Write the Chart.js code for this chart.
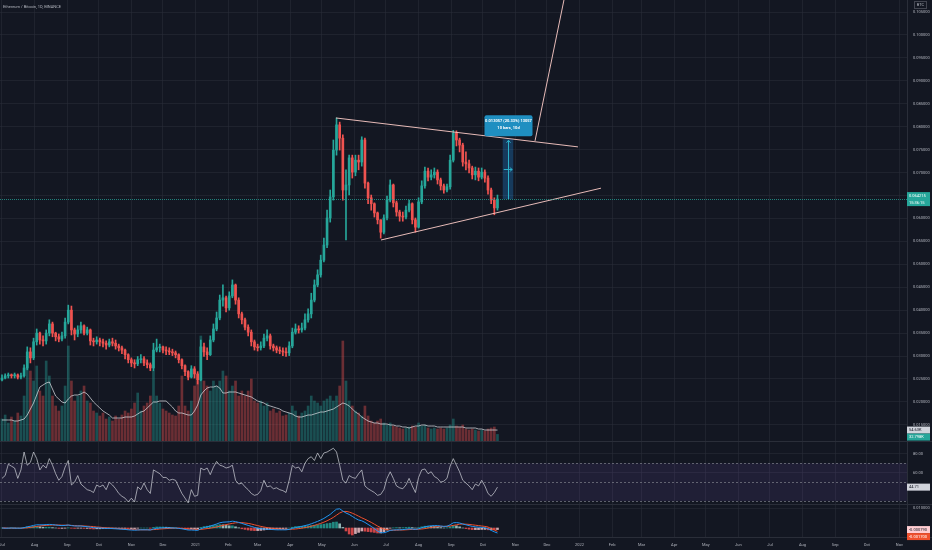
<!DOCTYPE html>
<html>
<head>
<meta charset="utf-8">
<title>ETHBTC 1D</title>
<script src="https://cdn.jsdelivr.net/npm/chart.js@4.4.1/dist/chart.umd.min.js"></script>
<style>
  html, body { margin: 0; padding: 0; background: #131722; }
  #wrap { position: relative; width: 932px; height: 550px; overflow: hidden; background: #131722; }
  canvas { position: absolute; left: 0; }
</style>
</head>
<body>
<div id="wrap">
  <canvas id="price" width="932" height="441" style="top:0"></canvas>
  <canvas id="rsi" width="932" height="63" style="top:441px"></canvas>
  <canvas id="macd" width="932" height="46" style="top:504px"></canvas>
</div>
<script>
// candles every 3 days, x = days since 1 Jul 2020
const days = [0,3,6,9,12,15,18,21,24,27,30,33,36,39,42,45,48,51,54,57,60,63,66,69,72,75,78,81,84,87,
  90,93,96,99,102,105,108,111,114,117,120,123,126,129,132,135,138,141,144,147,150,153,156,159,162,165,168,171,174,177,
  180,183,186,189,192,195,198,201,204,207,210,213,216,219,222,225,228,231,234,237,240,243,246,249,252,255,258,261,264,267,
  270,273,276,279,282,285,288,291,294,297,300,303,306,309,312,315,318,321,324,327,330,333,336,339,342,345,348,351,354,357,
  360,363,366,369,372,375,378,381,384,387,390,393,396,399,402,405,408,411,414,417,420,423,426,429,432,435,438,441,444,447,
  450,453,456,459,462,465,468,471];

const open = [0.0248,0.0252,0.0257,0.0259,0.0257,0.0259,0.0254,0.0257,0.0274,0.0309,
  0.0296,0.0331,0.0350,0.0335,0.0333,0.0350,0.0370,0.0350,0.0342,0.0337,
  0.0344,0.0374,0.0400,0.0357,0.0348,0.0357,0.0366,0.0350,0.0357,0.0333,
  0.0331,0.0335,0.0331,0.0328,0.0324,0.0331,0.0328,0.0322,0.0318,0.0313,
  0.0303,0.0292,0.0285,0.0283,0.0292,0.0294,0.0285,0.0281,0.0274,0.0313,
  0.0318,0.0320,0.0313,0.0311,0.0309,0.0307,0.0303,0.0292,0.0279,0.0266,
  0.0254,0.0272,0.0261,0.0248,0.0320,0.0309,0.0303,0.0335,0.0359,0.0383,
  0.0422,0.0427,0.0405,0.0431,0.0455,0.0422,0.0392,0.0379,0.0363,0.0352,
  0.0331,0.0320,0.0318,0.0322,0.0339,0.0344,0.0322,0.0318,0.0313,0.0311,
  0.0309,0.0307,0.0322,0.0352,0.0359,0.0357,0.0361,0.0379,0.0392,0.0422,
  0.0455,0.0477,0.0509,0.0542,0.0601,0.0647,0.0749,0.0804,0.0775,0.0662,
  0.0673,0.0732,0.0701,0.0727,0.0723,0.0771,0.0677,0.0645,0.0632,0.0612,
  0.0597,0.0570,0.0601,0.0640,0.0673,0.0634,0.0614,0.0605,0.0603,0.0618,
  0.0632,0.0597,0.0581,0.0636,0.0671,0.0703,0.0690,0.0695,0.0701,0.0684,
  0.0671,0.0662,0.0669,0.0727,0.0786,0.0771,0.0760,0.0723,0.0719,0.0710,
  0.0695,0.0703,0.0690,0.0701,0.0688,0.0662,0.0640,0.0623];
const high = [0.0259,0.0261,0.0263,0.0261,0.0263,0.0261,0.0263,0.0281,0.0320,0.0318,
  0.0339,0.0359,0.0352,0.0344,0.0357,0.0379,0.0374,0.0352,0.0348,0.0352,
  0.0383,0.0411,0.0409,0.0361,0.0366,0.0374,0.0368,0.0363,0.0359,0.0339,
  0.0342,0.0339,0.0337,0.0333,0.0337,0.0339,0.0335,0.0326,0.0322,0.0315,
  0.0305,0.0296,0.0292,0.0299,0.0303,0.0299,0.0292,0.0285,0.0328,0.0337,
  0.0326,0.0322,0.0320,0.0318,0.0315,0.0311,0.0305,0.0294,0.0281,0.0268,
  0.0279,0.0277,0.0266,0.0335,0.0328,0.0318,0.0344,0.0370,0.0396,0.0433,
  0.0455,0.0431,0.0440,0.0466,0.0457,0.0427,0.0396,0.0383,0.0368,0.0357,
  0.0335,0.0326,0.0331,0.0348,0.0357,0.0348,0.0326,0.0322,0.0320,0.0318,
  0.0318,0.0331,0.0361,0.0370,0.0366,0.0372,0.0392,0.0403,0.0437,0.0466,
  0.0488,0.0520,0.0557,0.0618,0.0662,0.0771,0.0819,0.0810,0.0782,0.0706,
  0.0738,0.0738,0.0738,0.0738,0.0778,0.0775,0.0679,0.0651,0.0634,0.0614,
  0.0597,0.0608,0.0649,0.0684,0.0675,0.0638,0.0618,0.0614,0.0627,0.0640,
  0.0634,0.0601,0.0645,0.0682,0.0712,0.0710,0.0706,0.0710,0.0706,0.0688,
  0.0675,0.0675,0.0738,0.0792,0.0791,0.0775,0.0764,0.0745,0.0727,0.0714,
  0.0712,0.0710,0.0710,0.0706,0.0693,0.0666,0.0645,0.0651];
const low = [0.0246,0.0250,0.0252,0.0252,0.0252,0.0250,0.0250,0.0254,0.0270,0.0285,
  0.0292,0.0324,0.0326,0.0322,0.0326,0.0344,0.0342,0.0333,0.0331,0.0333,
  0.0339,0.0370,0.0346,0.0335,0.0342,0.0350,0.0346,0.0346,0.0324,0.0322,
  0.0326,0.0322,0.0320,0.0315,0.0320,0.0322,0.0315,0.0311,0.0305,0.0294,
  0.0285,0.0277,0.0274,0.0279,0.0285,0.0279,0.0274,0.0268,0.0268,0.0309,
  0.0309,0.0307,0.0303,0.0303,0.0301,0.0296,0.0285,0.0272,0.0257,0.0248,
  0.0252,0.0252,0.0239,0.0246,0.0299,0.0292,0.0301,0.0331,0.0355,0.0379,
  0.0409,0.0396,0.0400,0.0427,0.0413,0.0383,0.0370,0.0357,0.0344,0.0322,
  0.0313,0.0311,0.0313,0.0318,0.0333,0.0315,0.0311,0.0307,0.0305,0.0301,
  0.0299,0.0301,0.0318,0.0348,0.0350,0.0352,0.0357,0.0374,0.0383,0.0418,
  0.0451,0.0472,0.0505,0.0536,0.0592,0.0640,0.0738,0.0749,0.0640,0.0553,
  0.0651,0.0688,0.0693,0.0706,0.0714,0.0666,0.0632,0.0618,0.0603,0.0588,
  0.0557,0.0566,0.0597,0.0636,0.0625,0.0605,0.0594,0.0594,0.0599,0.0614,
  0.0588,0.0570,0.0579,0.0632,0.0666,0.0682,0.0684,0.0688,0.0675,0.0662,
  0.0655,0.0658,0.0664,0.0723,0.0758,0.0745,0.0714,0.0706,0.0699,0.0686,
  0.0684,0.0682,0.0686,0.0679,0.0653,0.0632,0.0608,0.0618];
const close = [0.0252,0.0257,0.0259,0.0257,0.0259,0.0254,0.0257,0.0274,0.0309,0.0296,
  0.0331,0.0350,0.0335,0.0333,0.0350,0.0370,0.0350,0.0342,0.0337,0.0344,
  0.0374,0.0400,0.0357,0.0348,0.0357,0.0366,0.0350,0.0357,0.0333,0.0331,
  0.0335,0.0331,0.0328,0.0324,0.0331,0.0328,0.0322,0.0318,0.0313,0.0303,
  0.0292,0.0285,0.0283,0.0292,0.0294,0.0285,0.0281,0.0274,0.0313,0.0318,
  0.0320,0.0313,0.0311,0.0309,0.0307,0.0303,0.0292,0.0279,0.0266,0.0254,
  0.0272,0.0261,0.0248,0.0320,0.0309,0.0303,0.0335,0.0359,0.0383,0.0422,
  0.0427,0.0405,0.0431,0.0455,0.0422,0.0392,0.0379,0.0363,0.0352,0.0331,
  0.0320,0.0318,0.0322,0.0339,0.0344,0.0322,0.0318,0.0313,0.0311,0.0309,
  0.0307,0.0322,0.0352,0.0359,0.0357,0.0361,0.0379,0.0392,0.0422,0.0455,
  0.0477,0.0509,0.0542,0.0601,0.0647,0.0749,0.0804,0.0775,0.0662,0.0673,
  0.0732,0.0701,0.0727,0.0723,0.0771,0.0677,0.0645,0.0632,0.0612,0.0597,
  0.0570,0.0601,0.0640,0.0673,0.0634,0.0614,0.0605,0.0603,0.0618,0.0632,
  0.0597,0.0581,0.0636,0.0671,0.0703,0.0690,0.0695,0.0701,0.0684,0.0671,
  0.0662,0.0669,0.0727,0.0786,0.0771,0.0760,0.0723,0.0719,0.0710,0.0695,
  0.0703,0.0690,0.0701,0.0688,0.0662,0.0640,0.0623,0.064215];

// volume in thousands of ETH
const volume = [110,130,90,120,100,140,125,225,425,350,
  300,375,250,225,400,325,225,175,150,175,
  275,475,300,200,225,250,275,200,190,150,
  140,125,140,110,120,100,125,110,130,150,
  140,160,190,240,150,175,190,225,350,225,
  190,160,150,140,130,125,175,325,175,150,
  200,275,300,525,300,275,250,300,275,300,
  350,325,250,275,300,225,250,225,250,310,
  200,190,200,175,190,150,160,140,150,125,
  130,140,175,150,125,140,150,175,225,200,
  190,175,200,210,225,200,225,275,500,300,
  200,175,150,140,125,175,125,100,90,100,
  110,90,80,90,75,70,65,60,65,70,
  75,70,90,75,80,65,60,65,60,65,
  60,65,80,110,75,70,80,60,55,60,
  55,50,55,50,60,65,70,32.798];
const volumeMA = [105,105,105,105,100,100,105,110,130,160,
  190,230,270,280,290,295,260,225,210,195,
  190,210,225,230,230,235,245,235,215,195,
  180,165,150,140,130,115,115,115,115,120,
  120,120,125,135,145,150,165,180,195,195,
  200,200,200,185,170,150,140,140,135,130,
  130,150,180,230,250,265,270,270,275,265,
  240,240,245,245,245,240,235,230,225,220,
  210,200,195,190,180,175,170,165,160,150,
  145,140,135,125,120,120,125,130,130,135,
  140,145,145,150,155,160,170,180,190,185,
  175,160,145,135,120,110,100,95,90,90,
  85,85,85,80,80,75,75,70,70,65,
  70,75,75,80,80,75,75,75,70,70,
  70,70,70,70,70,70,70,65,65,65,
  65,60,60,55,55,55,55,54.63];

const rsi = [54,57,69,67,65,54,63,82,68,71,
  82,75,63,68,65,75,68,59,52,56,
  66,73,47,50,57,48,45,42,41,39,
  47,45,47,42,50,47,43,38,35,33,
  29,33,29,45,42,49,42,38,63,61,
  59,55,55,52,53,52,45,38,33,28,
  42,35,36,65,63,65,58,66,72,68,
  67,65,66,68,52,48,49,45,42,38,
  36,37,41,52,45,46,43,44,42,41,
  39,52,68,65,66,61,70,75,77,73,
  81,75,81,82,84,86,82,68,52,49,
  57,55,54,59,63,46,43,41,39,36,
  37,42,54,61,54,46,44,43,47,54,
  46,39,55,63,64,59,61,56,54,50,
  51,54,67,75,68,61,52,49,46,42,
  48,46,52,46,38,35,39,44.71];

const macd = [0,-0.0001,-0.0001,0,-0.0001,-0.0001,-0.0001,0.0002,0.0006,0.0009,
  0.0013,0.0016,0.0016,0.0016,0.0017,0.0018,0.0017,0.0015,0.0013,0.0012,
  0.0013,0.0015,0.0012,0.001,0.001,0.001,0.0008,0.0007,0.0004,0.0002,
  0.0001,0,-0.0001,-0.0002,-0.0002,-0.0003,-0.0004,-0.0005,-0.0006,-0.0007,
  -0.0009,-0.001,-0.0011,-0.001,-0.0009,-0.0009,-0.0009,-0.001,-0.0005,-0.0002,
  0,0.0001,0.0001,0.0001,0,0,-0.0002,-0.0004,-0.0007,-0.001,
  -0.001,-0.0011,-0.0012,-0.0004,0.0002,0.0006,0.001,0.0015,0.002,0.0026,
  0.0029,0.003,0.0031,0.0034,0.0032,0.0028,0.0023,0.0018,0.0013,0.0008,
  0.0003,-0.0001,-0.0004,-0.0005,-0.0006,-0.0007,-0.0008,-0.0009,-0.0009,-0.0009,
  -0.0009,-0.0007,-0.0002,0.0002,0.0005,0.0008,0.0012,0.0016,0.0021,0.0027,
  0.0033,0.004,0.0048,0.0058,0.0068,0.0082,0.0094,0.0096,0.0085,0.0075,
  0.0068,0.0058,0.0048,0.004,0.0036,0.0028,0.0018,0.0008,-0.0003,-0.0015,
  -0.0023,-0.0024,-0.0019,-0.0012,-0.001,-0.0009,-0.0009,-0.0008,-0.0006,-0.0004,
  -0.0005,-0.0007,-0.0004,0.0001,0.0006,0.0009,0.0011,0.0012,0.0012,0.001,
  0.0008,0.0009,0.0016,0.0026,0.0027,0.0025,0.002,0.0016,0.0012,0.0008,
  0.0006,0.0004,0.0003,0.0001,-0.0004,-0.0012,-0.0019,-0.0025];
const signal = [0,0,-0.0001,-0.0001,-0.0001,-0.0001,-0.0001,0,0.0001,0.0003,
  0.0005,0.0008,0.001,0.0012,0.0013,0.0014,0.0015,0.0015,0.0015,0.0014,
  0.0014,0.0014,0.0013,0.0012,0.0011,0.0011,0.001,0.0009,0.0008,0.0007,
  0.0005,0.0004,0.0002,0.0001,0,-0.0001,-0.0002,-0.0003,-0.0004,-0.0005,
  -0.0006,-0.0007,-0.0008,-0.0009,-0.0009,-0.0009,-0.0009,-0.0009,-0.0008,-0.0007,
  -0.0005,-0.0004,-0.0003,-0.0002,-0.0001,-0.0001,-0.0001,-0.0002,-0.0003,-0.0004,
  -0.0006,-0.0007,-0.0008,-0.0007,-0.0005,-0.0003,-0.0001,0.0002,0.0005,0.0009,
  0.0013,0.0017,0.002,0.0023,0.0026,0.0027,0.0027,0.0025,0.0023,0.002,
  0.0016,0.0012,0.0008,0.0005,0.0002,0,-0.0002,-0.0004,-0.0005,-0.0006,
  -0.0007,-0.0007,-0.0006,-0.0005,-0.0003,-0.0001,0.0002,0.0005,0.0009,0.0013,
  0.0018,0.0023,0.0029,0.0036,0.0044,0.0053,0.0064,0.0075,0.0082,0.0083,
  0.008,0.0074,0.0067,0.0059,0.0051,0.0044,0.0036,0.0028,0.0019,0.001,
  0.0002,-0.0005,-0.0009,-0.0011,-0.0011,-0.0011,-0.001,-0.001,-0.0009,-0.0008,
  -0.0007,-0.0007,-0.0006,-0.0005,-0.0003,0,0.0003,0.0005,0.0007,0.0008,
  0.0008,0.0008,0.001,0.0013,0.0016,0.0019,0.002,0.0019,0.0018,0.0016,
  0.0014,0.0012,0.001,0.0008,0.0005,-0.0004,-0.001,-0.0017];
const hist = [0,-0.0001,0,0.0001,0,0,0,0.0002,0.0005,0.0006,
  0.0008,0.0008,0.0006,0.0004,0.0004,0.0004,0.0002,0,-0.0002,-0.0002,
  -0.0001,0.0001,-0.0001,-0.0002,-0.0001,-0.0001,-0.0002,-0.0002,-0.0004,-0.0005,
  -0.0004,-0.0004,-0.0003,-0.0003,-0.0002,-0.0002,-0.0002,-0.0002,-0.0002,-0.0002,
  -0.0003,-0.0003,-0.0003,-0.0001,0,0,0,-0.0001,0.0003,0.0005,
  0.0005,0.0005,0.0004,0.0003,0.0001,0.0001,-0.0001,-0.0002,-0.0004,-0.0006,
  -0.0004,-0.0004,-0.0004,0.0003,0.0007,0.0009,0.0011,0.0013,0.0015,0.0017,
  0.0016,0.0013,0.0011,0.0011,0.0006,0.0001,-0.0004,-0.0007,-0.001,-0.0012,
  -0.0013,-0.0013,-0.0012,-0.001,-0.0008,-0.0007,-0.0006,-0.0005,-0.0004,-0.0003,
  -0.0002,0,0.0004,0.0007,0.0008,0.0009,0.001,0.0011,0.0012,0.0014,
  0.0015,0.0017,0.0019,0.0022,0.0024,0.0029,0.003,0.0021,0.0003,-0.0015,
  -0.003,-0.0035,-0.0028,-0.0022,-0.0015,-0.0016,-0.0018,-0.002,-0.0022,-0.0025,
  -0.0025,-0.0019,-0.001,-0.0001,0.0001,0.0002,0.0001,0.0002,0.0003,0.0004,
  0.0002,0,0.0002,0.0006,0.0009,0.0009,0.0008,0.0007,0.0005,0.0002,
  0,0.0001,0.0006,0.0013,0.0011,0.0006,0,-0.0003,-0.0006,-0.0008,
  -0.0008,-0.0008,-0.0007,-0.0007,-0.0009,-0.0008,-0.0009,-0.00079];

// axis ticks
const monthDays = [0,31,62,92,123,153,184,215,243,274,304,335,365,396,427,457,488,518,549,580,608,639,669,700,730,761,792,822,853];
const monthLabels = ['Jul','Aug','Sep','Oct','Nov','Dec','2021','Feb','Mar','Apr','May','Jun','Jul','Aug','Sep','Oct','Nov','Dec','2022','Feb','Mar','Apr','May','Jun','Jul','Aug','Sep','Oct','Nov'];
const priceTicks = [0.015,0.02,0.025,0.03,0.035,0.04,0.045,0.05,0.055,0.06,0.065,0.07,0.075,0.08,0.085,0.09,0.095,0.1,0.105];
const rsiTicks = [60,80];
const macdTicks = [0.01];

// drawings
const upperLine = [{x:317.5, y:0.0819}, {x:547.5, y:0.0756}];
const lowerLine = [{x:360.3, y:0.0553}, {x:569.4, y:0.0666}];
const breakoutLine = [{x:506.7, y:0.0769}, {x:540, y:0.1141}];
const measureDays = [476, 486];
const measurePrices = [0.064215, 0.077272];
const measureText = ['0.013057 (20.33%) 13057', '10 bars, 10d'];
const titleText = 'Ethereum / Bitcoin, 1D, BINANCE';
const countdown = '15:36:15';

const TEXT = '#b2b5be';
const GRID = 'rgba(42,46,57,0.55)';
const SEP = '#2a2e39';
const UP = '#26a69a', DOWN = '#ef5350';
const FONT = '4px Roboto, sans-serif';
const X_MIN = -1.9, X_MAX = 860.3;
const last = close.length - 1;

Chart.defaults.font.family = 'Roboto, sans-serif';
Chart.defaults.color = TEXT;

function xAxis(showLabels) {
  return {
    type: 'linear', min: X_MIN, max: X_MAX, offset: false,
    afterBuildTicks: s => { s.ticks = monthDays.map(v => ({value: v})); },
    grid: {color: GRID, drawTicks: false, offset: false},
    border: {display: false},
    ticks: {
      display: showLabels, autoSkip: false, maxRotation: 0, color: TEXT,
      font: {size: 4}, padding: 6,
      callback: (v, i) => monthLabels[i]
    },
    afterFit: s => { s.height = showLabels ? 13 : 0; s.paddingLeft = 0; s.paddingRight = 0; }
  };
}

function yAxis(min, max, tickVals, fmt) {
  return {
    position: 'right', min: min, max: max,
    afterBuildTicks: s => { s.ticks = tickVals.map(v => ({value: v})); },
    grid: {color: GRID, drawTicks: false},
    border: {color: SEP},
    ticks: {color: TEXT, font: {size: 4}, padding: 6, callback: v => fmt(v)},
    afterFit: s => { s.width = 25; s.paddingTop = 0; s.paddingBottom = 0; }
  };
}

function tag(ctx, y, h, lines, bg, fg) {
  ctx.fillStyle = bg;
  ctx.fillRect(907, y - h / 2, 23, h);
  ctx.fillStyle = fg;
  ctx.font = FONT;
  ctx.textAlign = 'left';
  ctx.textBaseline = 'middle';
  const step = h / lines.length;
  lines.forEach((t, i) => ctx.fillText(t, 909, y - h / 2 + step * (i + 0.5)));
}

function separator(ctx, y) {
  ctx.fillStyle = SEP;
  ctx.fillRect(0, y, 932, 1);
}

const baseOptions = {
  responsive: false,
  animation: false,
  devicePixelRatio: 1,
  layout: {padding: 0},
  plugins: {legend: {display: false}, tooltip: {enabled: false}}
};

// ---- price pane ----
const candleColors = close.map((c, i) => c >= open[i] ? UP : DOWN);
const volColors = close.map((c, i) => c >= open[i] ? 'rgba(38,166,154,0.4)' : 'rgba(239,83,80,0.4)');
const trendStyle = {type: 'line', borderColor: 'rgba(242,196,192,0.95)', borderWidth: 1, pointRadius: 0, order: 0, yAxisID: 'y'};

const priceOverlay = {
  id: 'priceOverlay',
  afterDatasetsDraw(chart) {
    const {ctx, chartArea: a, scales: {x, y}} = chart;
    ctx.save();
    // last price line
    const py = Math.round(y.getPixelForValue(close[last])) + 0.5;
    ctx.strokeStyle = 'rgba(38,166,154,0.75)';
    ctx.lineWidth = 1;
    ctx.setLineDash([1, 1]);
    ctx.beginPath(); ctx.moveTo(a.left, py); ctx.lineTo(a.right, py); ctx.stroke();
    ctx.setLineDash([]);

    // price range measure
    const x1 = x.getPixelForValue(measureDays[0]), x2 = x.getPixelForValue(measureDays[1]);
    const yt = y.getPixelForValue(measurePrices[1]), yb = y.getPixelForValue(measurePrices[0]);
    const xc = Math.round((x1 + x2) / 2) + 0.5, yc = Math.round((yt + yb) / 2) + 0.5;
    ctx.fillStyle = 'rgba(33,150,243,0.28)';
    ctx.fillRect(x1, yt, x2 - x1, yb - yt);
    ctx.strokeStyle = '#2bb0c9';
    ctx.beginPath();
    ctx.moveTo(xc, yb); ctx.lineTo(xc, yt + 1);
    ctx.moveTo(xc - 2, yt + 3.5); ctx.lineTo(xc, yt + 1); ctx.lineTo(xc + 2, yt + 3.5);
    ctx.moveTo(x1 + 1, yc); ctx.lineTo(x2 - 1, yc);
    ctx.moveTo(x2 - 3.5, yc - 2); ctx.lineTo(x2 - 1, yc); ctx.lineTo(x2 - 3.5, yc + 2);
    ctx.stroke();
    const lw = 48, lh = 21, lx = xc - lw / 2, ly = yt - 3 - lh;
    ctx.fillStyle = '#1f8fc1';
    ctx.beginPath(); ctx.roundRect(lx, ly, lw, lh, 2); ctx.fill();
    ctx.fillStyle = '#ffffff';
    ctx.font = 'bold ' + FONT;
    ctx.textAlign = 'center'; ctx.textBaseline = 'middle';
    ctx.fillText(measureText[0], xc, ly + 6);
    ctx.fillText(measureText[1], xc, ly + 13);
    ctx.restore();
  },
  afterDraw(chart) {
    const {ctx, scales: {y, yVol}} = chart;
    ctx.save();
    ctx.fillStyle = TEXT;
    ctx.font = FONT;
    ctx.textAlign = 'left'; ctx.textBaseline = 'middle';
    ctx.fillText(titleText, 3, 7);
    // currency label
    ctx.strokeStyle = '#434651';
    ctx.strokeRect(914.5, 1.5, 12, 7);
    ctx.fillStyle = TEXT;
    ctx.textAlign = 'center';
    ctx.fillText('BTC', 920.5, 5.2);
    // right-hand value tags
    const py = y.getPixelForValue(close[last]);
    tag(ctx, py, 14, [close[last].toFixed(6), countdown], UP, '#ffffff');
    const maY = yVol.getPixelForValue(volumeMA[last]);
    tag(ctx, maY, 7, [volumeMA[last].toFixed(2) + 'K'], '#d1d4dc', '#131722');
    const vY = Math.max(yVol.getPixelForValue(volume[last]), maY + 7);
    tag(ctx, vY, 7, [volume[last].toFixed(3) + 'K'], UP, '#ffffff');
    ctx.restore();
  }
};

new Chart(document.getElementById('price'), {
  type: 'bar',
  data: {
    datasets: [
      {label: 'Volume', data: days.map((d, i) => ({x: d, y: volume[i]})), yAxisID: 'yVol',
        backgroundColor: volColors, barThickness: 2, grouped: false, order: 10},
      {type: 'line', label: 'Volume MA', data: days.map((d, i) => ({x: d, y: volumeMA[i]})), yAxisID: 'yVol',
        borderColor: 'rgba(215,216,222,0.75)', borderWidth: 1, pointRadius: 0, order: 9},
      {label: 'Wick', data: days.map((d, i) => ({x: d, y: [low[i], high[i]]})), yAxisID: 'y',
        backgroundColor: candleColors, barThickness: 1, grouped: false, order: 2},
      {label: 'Body', data: days.map((d, i) => ({x: d, y: [open[i], close[i]]})), yAxisID: 'y',
        backgroundColor: candleColors, barThickness: 2, minBarLength: 1, grouped: false, order: 1},
      Object.assign({label: 'Upper', data: upperLine}, trendStyle),
      Object.assign({label: 'Lower', data: lowerLine}, trendStyle),
      Object.assign({label: 'Breakout', data: breakoutLine}, trendStyle)
    ]
  },
  options: Object.assign({}, baseOptions, {
    scales: {
      x: xAxis(false),
      y: yAxis(0.01148, 0.10762, priceTicks, v => v.toFixed(6)),
      yVol: {display: false, min: 0, max: 2205}
    }
  }),
  plugins: [priceOverlay]
});

// ---- RSI pane ----
const rsiOverlay = {
  id: 'rsiOverlay',
  beforeDatasetsDraw(chart) {
    const {ctx, chartArea: a, scales: {y}} = chart;
    ctx.save();
    const y70 = y.getPixelForValue(70), y30 = y.getPixelForValue(30);
    ctx.fillStyle = 'rgba(126,87,194,0.13)';
    ctx.fillRect(a.left, y70, a.right - a.left, y30 - y70);
    ctx.strokeStyle = 'rgba(120,123,134,0.75)';
    ctx.setLineDash([2, 2]);
    [70, 50, 30].forEach(v => {
      const yy = Math.round(y.getPixelForValue(v)) + 0.5;
      ctx.beginPath(); ctx.moveTo(a.left, yy); ctx.lineTo(a.right, yy); ctx.stroke();
    });
    ctx.restore();
  },
  afterDraw(chart) {
    const {ctx, scales: {y}} = chart;
    ctx.save();
    separator(ctx, 0);
    tag(ctx, y.getPixelForValue(rsi[last]), 7, [rsi[last].toFixed(2)], '#d1d4dc', '#131722');
    ctx.restore();
  }
};

new Chart(document.getElementById('rsi'), {
  type: 'line',
  data: {
    datasets: [{label: 'RSI', data: days.map((d, i) => ({x: d, y: rsi[i]})),
      borderColor: 'rgba(205,207,215,0.8)', borderWidth: 0.9, pointRadius: 0}]
  },
  options: Object.assign({}, baseOptions, {
    scales: {
      x: xAxis(false),
      y: yAxis(26.8, 93.7, rsiTicks, v => v.toFixed(2))
    }
  }),
  plugins: [rsiOverlay]
});

// ---- MACD pane ----
const histColors = hist.map((v, i) => {
  const p = i > 0 ? hist[i - 1] : 0;
  if (v >= 0) return v >= p ? 'rgba(38,166,154,0.8)' : 'rgba(178,223,219,0.8)';
  return v < p ? 'rgba(255,82,82,0.8)' : 'rgba(255,205,210,0.8)';
});

const macdOverlay = {
  id: 'macdOverlay',
  afterDraw(chart) {
    const {ctx, chartArea: a, scales: {y}} = chart;
    ctx.save();
    separator(ctx, 0);
    separator(ctx, a.bottom);
    const hy = y.getPixelForValue(hist[last]);
    tag(ctx, hy, 7, [hist[last].toFixed(6)], '#ffcdd2', '#131722');
    const sy = Math.max(y.getPixelForValue(signal[last]), hy + 7);
    tag(ctx, sy, 7, [signal[last].toFixed(6)], '#f0502d', '#ffffff');
    ctx.restore();
  }
};

new Chart(document.getElementById('macd'), {
  type: 'bar',
  data: {
    datasets: [
      {label: 'Histogram', data: days.map((d, i) => ({x: d, y: hist[i]})),
        backgroundColor: histColors, barThickness: 2, grouped: false, order: 3},
      {type: 'line', label: 'MACD', data: days.map((d, i) => ({x: d, y: macd[i]})),
        borderColor: '#2196f3', borderWidth: 1, pointRadius: 0, order: 1},
      {type: 'line', label: 'Signal', data: days.map((d, i) => ({x: d, y: signal[i]})),
        borderColor: '#f0502d', borderWidth: 1, pointRadius: 0, order: 2}
    ]
  },
  options: Object.assign({}, baseOptions, {
    scales: {
      x: xAxis(true),
      y: yAxis(-0.0045, 0.012, macdTicks, v => v.toFixed(6))
    }
  }),
  plugins: [macdOverlay]
});
</script>
</body>
</html>
